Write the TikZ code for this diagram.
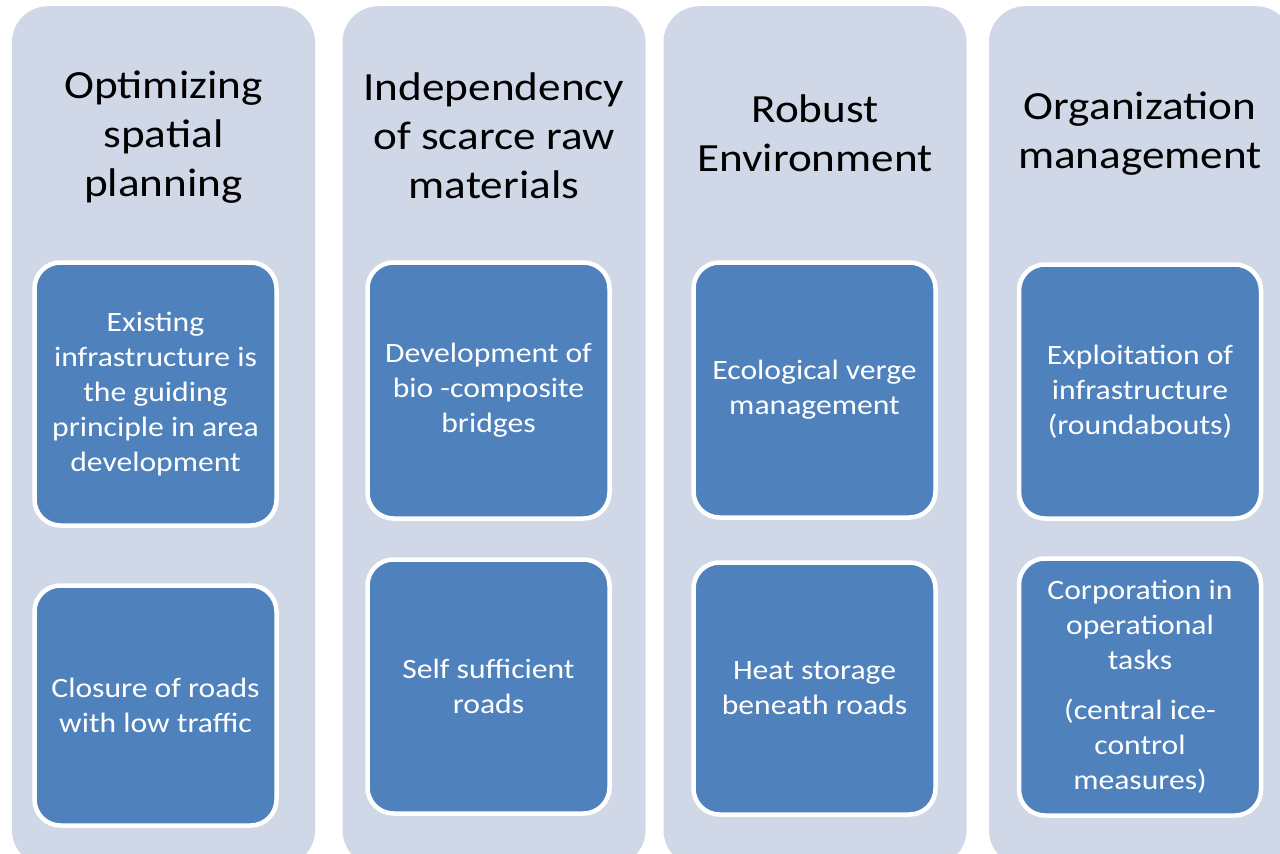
\documentclass[tikz,border=0pt]{standalone}
\usepackage{fontspec}
\setmainfont{Carlito}[FakeStretch=1.13]
\definecolor{pillarfill}{HTML}{D0D8E8}
\definecolor{tilefill}{HTML}{4F81BD}

\begin{document}
\begin{tikzpicture}[
    x=1pt, y=-1pt,
    pillar/.style = {
      shape=rectangle,
      rounded corners=36pt,
      fill=pillarfill,
      minimum width=303pt,
      minimum height=860pt,
      inner sep=0pt,
      anchor=north
    },
    heading/.style = {
      align=center,
      text=black,
      font=\fontsize{40}{49}\selectfont
    },
    tile/.style = {
      shape=rectangle,
      rounded corners=26pt,
      draw=white,
      line width=4.5pt,
      fill=tilefill,
      text=white,
      align=center,
      minimum width=242pt,
      font=\fontsize{28}{35}\selectfont
    }
  ]

  \useasboundingbox (0,0) rectangle (1280,854);
  \clip (0,0) rectangle (1280,854);

  % columns
  \node[pillar] (plan)  at (163.5,6) {};
  \node[pillar] (raw)   at (494,6)   {};
  \node[pillar] (env)   at (815,6)   {};
  \node[pillar] (org)   at (1140.5,6) {};

  % headings
  \node[heading] (planhead) at (163.5,137) {Optimizing\\spatial\\planning};
  \node[heading] (rawhead)  at (494,136)   {Independency\\of scarce raw\\materials};
  \node[heading] (envhead)  at (815,133)   {Robust\\Environment};
  \node[heading] (orghead)  at (1140,134)  {Organization\\management};

  % measures
  \node[tile, minimum height=263pt] (infra)   at (155.5,394)   {Existing\\infrastructure is\\the guiding\\principle in area\\development};
  \node[tile, minimum height=240pt] (closure) at (155.5,705.5) {Closure of roads\\with low traffic};

  \node[tile, minimum height=256pt] (bridges) at (488.5,390.5) {Development of\\bio -composite\\bridges};
  \node[tile, minimum height=254pt] (selfsuf) at (488.5,686.5) {Self sufficient\\roads};

  \node[tile, minimum height=255pt] (verge)   at (814.5,390)   {Ecological verge\\management};
  \node[tile, minimum height=252pt] (heat)    at (814.5,688.5) {Heat storage\\beneath roads};

  \node[tile, minimum height=254pt] (exploit) at (1140,391.5)  {Exploitation of\\infrastructure\\(roundabouts)};
  \node[tile, minimum height=257pt] (coop)    at (1140,687)    {Corporation in\\operational\\tasks\\[15pt](central ice-\\control\\measures)};

\end{tikzpicture}
\end{document}
